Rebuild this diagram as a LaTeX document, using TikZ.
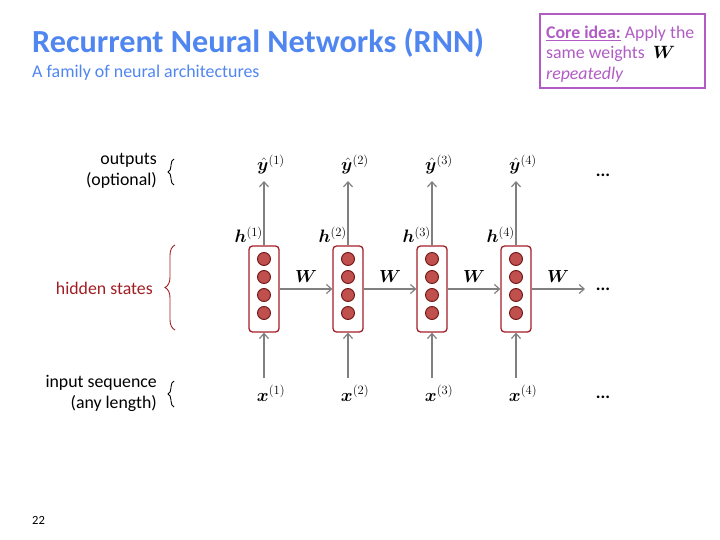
\RequirePackage{fix-cm}
\documentclass[tikz,border=0pt]{standalone}
\usepackage[no-math]{fontspec}
\setmainfont{Carlito}
\usepackage{amsmath,bm}
\usetikzlibrary{arrows.meta,decorations.pathreplacing}
\definecolor{titleblue}{RGB}{80,134,240}
\definecolor{corepurple}{RGB}{176,92,196}
\definecolor{cellred}{RGB}{165,30,40}
\definecolor{circfill}{RGB}{192,80,77}
\definecolor{circdraw}{RGB}{110,20,20}
\definecolor{hiddenred}{RGB}{160,30,35}
\definecolor{arrgray}{RGB}{128,128,128}
\tikzset{
  body/.style={font=\fontsize{17.8}{21}\selectfont, inner sep=0pt},
  mathlbl/.style={font=\fontsize{18}{21}\selectfont, inner sep=0pt},
  wlbl/.style={font=\fontsize{17.5}{20}\selectfont, inner sep=0pt},
  cellbox/.style={draw=cellred, line width=1.3pt, fill=white, rounded corners=3.5pt,
    minimum width=30pt, minimum height=86pt, inner sep=0pt},
  neuron/.style={circle, fill=circfill, draw=circdraw, line width=0.9pt,
    minimum size=13pt, inner sep=0pt},
  arr/.style={draw=arrgray, line width=1.2pt, -{Straight Barb[length=5pt,width=9pt]}},
  bracestyle/.style={decorate, decoration={brace, amplitude=6pt}, line width=0.9pt},
}
\begin{document}
\begin{tikzpicture}[x=1pt,y=-1pt]
\path[use as bounding box] (0,0) rectangle (720,540);

% title
\node[anchor=base west, inner sep=0pt, text=titleblue, font=\fontsize{32.2}{36}\selectfont\bfseries] (title) at (32,53) {Recurrent Neural Networks (RNN)};
\node[anchor=base west, inner sep=0pt, text=titleblue, font=\fontsize{17.9}{21}\selectfont] (subtitle) at (32,78) {A family of neural architectures};

% core idea box
\draw[corepurple, line width=1.5pt] (540,14) rectangle (705,88);
\node[body, anchor=north west, align=left, text=corepurple, font=\fontsize{17.8}{20.5}\selectfont] (core) at (546,25.5)
  {\underline{\textbf{Core idea:}} Apply the\\ same weights\ \ {\color{black}$\bm{W}$}\\ \textit{repeatedly}};

% cells
\foreach \i/\x in {1/264,2/348,3/432,4/516}{
  \node[cellbox] (c\i) at (\x,289) {};
  \foreach \j/\yy in {a/259,b/277,c/295,d/313}{
    \node[neuron] (n\i\j) at (\x,\yy) {};
  }
  \coordinate (yt\i) at (\x,181);
  \coordinate (xb\i) at (\x,378);
  \draw[arr] (c\i.north) -- (yt\i);
  \draw[arr] (xb\i) -- (c\i.south);
  \node[mathlbl, anchor=base] (yhat\i) at (\x+7,171) {$\hat{\bm{y}}^{(\i)}$};
  \node[mathlbl, anchor=base east] (h\i) at (\x-1,243) {$\bm{h}^{(\i)}$};
  \node[mathlbl, anchor=base] (x\i) at (\x+7,401) {$\bm{x}^{(\i)}$};
}
\coordinate (hend) at (585,289);
\draw[arr] (c1.east) -- (c2.west);
\draw[arr] (c2.east) -- (c3.west);
\draw[arr] (c3.east) -- (c4.west);
\draw[arr] (c4.east) -- (hend);
\foreach \x [count=\k] in {306,390,474,558}{
  \node[wlbl, anchor=base] (w\k) at (\x,282) {$\bm{W}$};
}

% dots
\node[body, font=\fontsize{17.8}{21}\selectfont\bfseries] (dots1) at (603,175) {...};
\node[body, font=\fontsize{17.8}{21}\selectfont\bfseries] (dots2) at (603,289) {...};
\node[body, font=\fontsize{17.8}{21}\selectfont\bfseries] (dots3) at (603,397) {...};

% left labels
\node[body, anchor=east, align=right] (outlbl) at (157,171) {outputs\\(optional)};
\node[body, anchor=east, text=hiddenred] (hidlbl) at (153,288) {hidden states};
\node[body, anchor=east, align=right] (inlbl) at (157,393) {input sequence\\(any length)};

\draw[bracestyle] (174,185) -- (174,159);
\draw[bracestyle, hiddenred, decoration={brace, amplitude=10pt}] (175,330) -- (175,245);
\draw[bracestyle] (174,407) -- (174,381);

% page number
\node[anchor=base west, inner sep=0pt, font=\fontsize{12.5}{15}\selectfont] (pnum) at (32,524) {22};
\end{tikzpicture}
\end{document}
